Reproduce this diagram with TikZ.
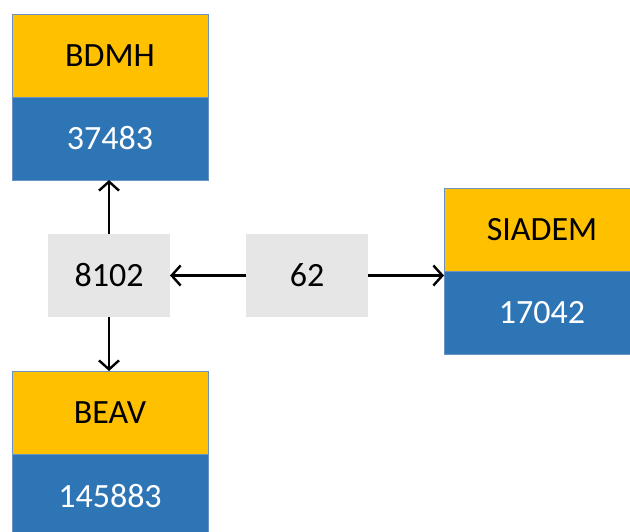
\documentclass[tikz,border=0pt]{standalone}
\usepackage{fontspec}
\setmainfont{Carlito}
\usetikzlibrary{arrows.meta,positioning}
\definecolor{headfill}{HTML}{FFC000}
\definecolor{countfill}{HTML}{2E75B6}
\definecolor{boxline}{HTML}{6A93C4}
\definecolor{tallyfill}{HTML}{E6E6E6}
\tikzset{
  head/.style={
    draw=boxline,
    line width=0.4pt,
    fill=headfill,
    outer sep=0pt,
    minimum width=98pt,
    minimum height=41.5pt,
    font=\fontsize{17}{20}\selectfont
  },
  count/.style={head, fill=countfill, text=white},
  tally/.style={
    fill=tallyfill,
    outer sep=0pt,
    minimum width=61pt,
    minimum height=41.5pt,
    font=\fontsize{17}{20}\selectfont
  },
  link/.style={line width=1.2pt, draw=black, -{Straight Barb[length=4.5pt,width=10pt]}}
}

\begin{document}
\begin{tikzpicture}[x=0.5pt,y=-0.5pt]
\useasboundingbox (0,0) rectangle (630,531);
\clip (0,0) rectangle (630,531);

% database boxes: name on top, record count below
\node[head] (bdmh) at (110,55.5) {BDMH};
\node[count, below=0pt of bdmh] (bdmhn) {37483};

\node[head] (beav) at (110,412.5) {BEAV};
\node[count, below=0pt of beav] (beavn) {145883};

\node[head] (siadem) at (542,230) {SIADEM};
\node[count, below=0pt of siadem] (siademn) {17042};

% overlap counts
\node[tally] (shared) at (109,275.5) {8102};
\node[tally] (common) at (307,275.5) {62};

\draw[link] (shared.north) -- (shared.north |- bdmhn.south);
\draw[link] (shared.south) -- (shared.south |- beav.north);
\draw[link] (common) -- (shared);
\draw[link] (common.east) -- (common.east -| siadem.west);

\end{tikzpicture}
\end{document}
